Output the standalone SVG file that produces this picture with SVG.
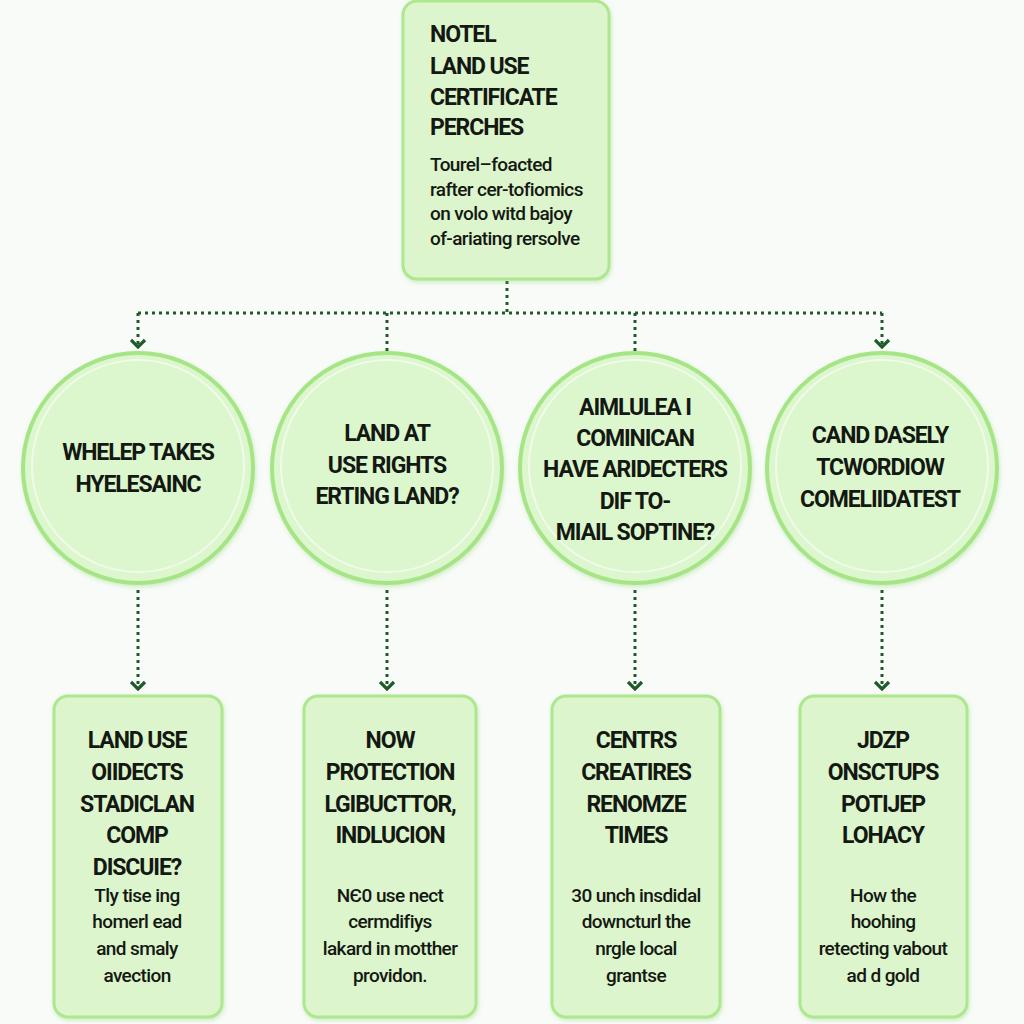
<svg xmlns="http://www.w3.org/2000/svg" width="1024" height="1024" viewBox="0 0 1024 1024">
<defs>
<style>
.bg{fill:#f8fbf8}
.box{fill:#dcf5cc;stroke:#aee88e;stroke-width:3}
.circ{fill:#dcf6cd;stroke:#a6e586;stroke-width:4}
.ring{fill:none;stroke:#ffffff;stroke-opacity:0.55;stroke-width:2}
.t{font-family:Roboto,"Liberation Sans",sans-serif;font-weight:700;fill:#141812}
.h{font-size:23px;letter-spacing:-1.1px}
.b{font-size:19px;font-weight:500;letter-spacing:-0.6px}
.c{text-anchor:middle}
.con{fill:none;stroke:#1f5a2a;stroke-width:3;stroke-dasharray:3 4;stroke-linecap:butt}
</style>
<marker id="arr" viewBox="0 0 11 17" refX="9" refY="8.5" markerWidth="11" markerHeight="17" markerUnits="userSpaceOnUse" orient="auto">
<path d="M2,1.5 L9,8.5 L2,15.5" fill="none" stroke="#1f5a2a" stroke-width="3.2"/>
</marker>
<filter id="sh" x="-10%" y="-10%" width="120%" height="120%">
<feDropShadow dx="1" dy="2" stdDeviation="2" flood-color="#7fcf5f" flood-opacity="0.35"/>
</filter>
</defs>
<rect class="bg" width="1024" height="1024"/>

<g id="connectors">
<path class="con" d="M507,281 V313"/>
<path class="con" d="M138,313 H882"/>
<path class="con" d="M138,313 V347" marker-end="url(#arr)"/>
<path class="con" d="M387,313 V352"/>
<path class="con" d="M635,313 V352"/>
<path class="con" d="M882,313 V347" marker-end="url(#arr)"/>
<path class="con" d="M138,590 V689" marker-end="url(#arr)"/>
<path class="con" d="M387,590 V689" marker-end="url(#arr)"/>
<path class="con" d="M635,590 V689" marker-end="url(#arr)"/>
<path class="con" d="M882,590 V689" marker-end="url(#arr)"/>
</g>

<g id="top">
<rect class="box" x="403" y="1" width="206" height="278" rx="14" filter="url(#sh)"/>
<text class="t h" x="430" y="42">NOTEL</text>
<text class="t h" x="430" y="74">LAND USE</text>
<text class="t h" x="430" y="105">CERTIFICATE</text>
<text class="t h" x="430" y="135">PERCHES</text>
<text class="t b" x="430" y="171">Tourel–foacted</text>
<text class="t b" x="430" y="196">rafter cer-tofiomics</text>
<text class="t b" x="430" y="220">on volo witd bajoy</text>
<text class="t b" x="430" y="245">of-ariating rersolve</text>
</g>

<g id="c1">
<circle class="circ" cx="138" cy="468" r="115" filter="url(#sh)"/>
<circle class="ring" cx="138" cy="466" r="106"/>
<text class="t h c" x="138" y="460">WHELEP TAKES</text>
<text class="t h c" x="138" y="492">HYELESAINC</text>
</g>
<g id="c2">
<circle class="circ" cx="387" cy="468" r="115" filter="url(#sh)"/>
<circle class="ring" cx="387" cy="466" r="106"/>
<text class="t h c" x="387" y="441">LAND AT</text>
<text class="t h c" x="387" y="473">USE RIGHTS</text>
<text class="t h c" x="387" y="504">ERTING LAND?</text>
</g>
<g id="c3">
<circle class="circ" cx="635" cy="468" r="115" filter="url(#sh)"/>
<circle class="ring" cx="635" cy="466" r="106"/>
<text class="t h c" x="635" y="415">AIMLULEA  I</text>
<text class="t h c" x="635" y="446">COMINICAN</text>
<text class="t h c" x="635" y="477">HAVE ARIDECTERS</text>
<text class="t h c" x="635" y="509">DIF TO-</text>
<text class="t h c" x="635" y="540">MIAIL SOPTINE?</text>
</g>
<g id="c4">
<circle class="circ" cx="882" cy="468" r="115" filter="url(#sh)"/>
<circle class="ring" cx="882" cy="466" r="106"/>
<text class="t h c" x="880" y="443">CAND DASELY</text>
<text class="t h c" x="880" y="475">TCWORDIOW</text>
<text class="t h c" x="880" y="507">COMELIIDATEST</text>
</g>

<g id="b1">
<rect class="box" x="54" y="696" width="168" height="321" rx="14" filter="url(#sh)"/>
<text class="t h c" x="137" y="748">LAND USE</text>
<text class="t h c" x="137" y="780">OIIDECTS</text>
<text class="t h c" x="137" y="812">STADICLAN</text>
<text class="t h c" x="137" y="843">COMP</text>
<text class="t h c" x="137" y="875">DISCUIE?</text>
<text class="t b c" x="137" y="902">Tly tise ing</text>
<text class="t b c" x="137" y="928">homerl ead</text>
<text class="t b c" x="137" y="955">and smaly</text>
<text class="t b c" x="137" y="982">avection</text>
</g>
<g id="b2">
<rect class="box" x="304" y="696" width="172" height="321" rx="14" filter="url(#sh)"/>
<text class="t h c" x="390" y="748">NOW</text>
<text class="t h c" x="390" y="780">PROTECTION</text>
<text class="t h c" x="390" y="812">LGIBUCTTOR,</text>
<text class="t h c" x="390" y="843">INDLUCION</text>
<text class="t b c" x="390" y="902">NЄ0 use nect</text>
<text class="t b c" x="390" y="928">cermdifiys</text>
<text class="t b c" x="390" y="955">lakard in motther</text>
<text class="t b c" x="390" y="982">providon.</text>
</g>
<g id="b3">
<rect class="box" x="552" y="696" width="168" height="321" rx="14" filter="url(#sh)"/>
<text class="t h c" x="636" y="748">CENTRS</text>
<text class="t h c" x="636" y="780">CREATIRES</text>
<text class="t h c" x="636" y="812">RENOMZE</text>
<text class="t h c" x="636" y="843">TIMES</text>
<text class="t b c" x="636" y="902">30 unch insdidal</text>
<text class="t b c" x="636" y="928">downcturl the</text>
<text class="t b c" x="636" y="955">nrgle local</text>
<text class="t b c" x="636" y="982">grantse</text>
</g>
<g id="b4">
<rect class="box" x="800" y="696" width="167" height="321" rx="14" filter="url(#sh)"/>
<text class="t h c" x="883" y="748">JDZP</text>
<text class="t h c" x="883" y="780">ONSCTUPS</text>
<text class="t h c" x="883" y="812">POTIJEP</text>
<text class="t h c" x="883" y="843">LOHACY</text>
<text class="t b c" x="883" y="902">How the</text>
<text class="t b c" x="883" y="928">hoohing</text>
<text class="t b c" x="883" y="955">retecting vabout</text>
<text class="t b c" x="883" y="982">ad d gold</text>
</g>
</svg>
